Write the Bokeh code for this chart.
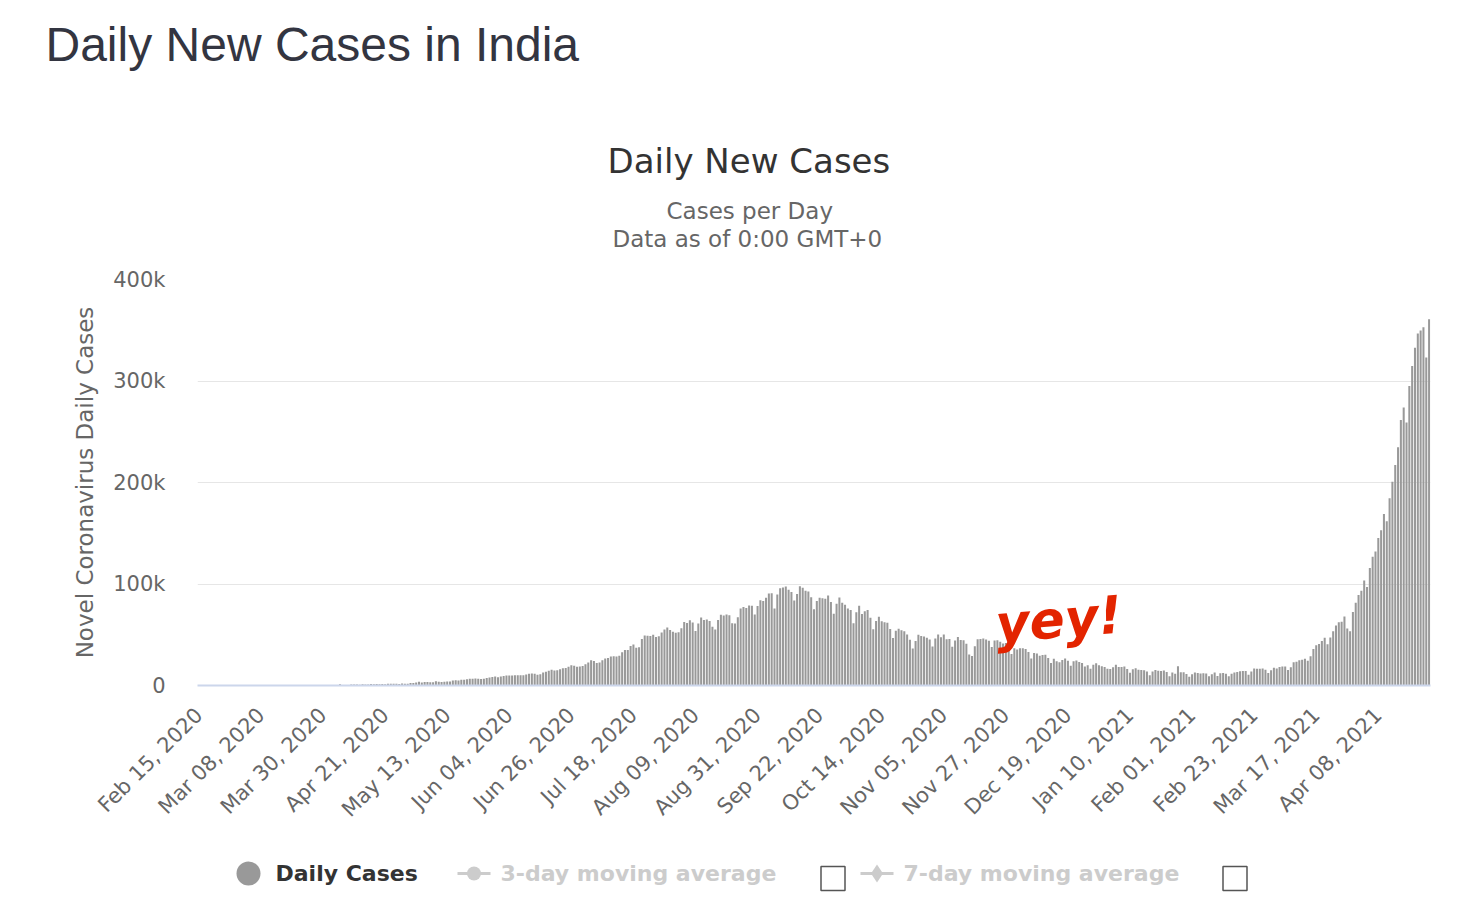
import math
import pandas as pd
from bokeh.plotting import figure
from bokeh.models import Range1d, FixedTicker, ColumnDataSource, Title
from bokeh.layouts import column
from bokeh.embed import file_html
from bokeh.resources import INLINE
from bokeh.core.properties import value

# ---------------- data ----------------
start_date = "2020-02-15"

cases_feb_2020 = [0, 0, 0, 0, 0, 0, 0, 0, 0, 0, 0, 0, 0, 0]
cases_mar_2020 = [0, 2, 1, 22, 2, 1, 3, 5, 4, 12, 12, 11, 9, 20, 11, 6, 23, 14, 38, 50,
                  86, 66, 103, 37, 121, 70, 160, 100, 82, 227, 146]
cases_apr_2020 = [601, 545, 478, 515, 506, 1190, 500, 522, 540, 1035, 906, 909, 796, 1211,
                  1076, 941, 1363, 1334, 1553, 1336, 1540, 1290, 1667, 1752, 1835, 1607,
                  1561, 1873, 1738, 1801]
cases_may_2020 = [2396, 2564, 2952, 3656, 2971, 3561, 3390, 3320, 3277, 4213, 3604, 3524,
                  3722, 3967, 3970, 4987, 5242, 4970, 5611, 5609, 6088, 6654, 6767, 6977,
                  6535, 6387, 6566, 7466, 7964, 8380, 8782]
cases_jun_2020 = [8171, 8909, 9304, 9851, 9887, 9971, 9983, 9987, 9985, 9996, 10956, 11458,
                  11929, 11502, 10667, 10974, 12881, 13586, 14516, 15413, 14821, 14933,
                  15968, 16922, 17296, 18552, 19906, 19459, 18522, 18653]
cases_jul_2020 = [19148, 20903, 22771, 24850, 24248, 22252, 22752, 24879, 26506, 27114,
                  28637, 28701, 28498, 29429, 32695, 34956, 34884, 38902, 40425, 37148,
                  37724, 45720, 49310, 48916, 48661, 49931, 47703, 48513, 52123, 55079, 57118]
cases_aug_2020 = [54735, 52972, 52050, 52509, 56282, 62538, 61537, 64399, 62064, 53601,
                  60963, 66999, 64553, 65002, 63490, 57981, 55079, 64531, 69652, 68898,
                  69878, 69239, 61408, 60975, 67151, 75760, 77266, 76472, 78761, 78512, 69921]
cases_sep_2020 = [78357, 83883, 83341, 86432, 90632, 90802, 75809, 89706, 95735, 96551,
                  97570, 94372, 92071, 83809, 90123, 97894, 96424, 93337, 92605, 86961,
                  75083, 83347, 86508, 86052, 85362, 88600, 82170, 70589, 80472, 86821]
cases_oct_2020 = [81484, 79476, 75829, 74442, 61267, 72049, 78524, 70496, 73272, 74383,
                  66732, 55342, 63509, 67708, 63371, 62212, 61871, 55722, 46790, 54044,
                  55839, 54366, 53370, 50129, 45148, 36470, 43893, 49881, 48648, 48268, 46963]
cases_nov_2020 = [45231, 38310, 46253, 50210, 47638, 50357, 45674, 45903, 38073, 44281,
                  47905, 44878, 44684, 41100, 30548, 29163, 38617, 45576, 45882, 46232,
                  45209, 44059, 37975, 44376, 44489, 43082, 41322, 41810, 38772, 31118]
cases_dec_2020 = [36604, 35551, 36594, 36652, 36011, 32981, 26567, 32080, 31521, 29398,
                  30006, 30254, 27071, 22065, 26382, 24010, 22890, 25152, 26624, 24337,
                  19556, 23950, 24712, 23068, 22273, 18732, 20021, 16432, 20549, 21822, 20035]
cases_jan_2021 = [19078, 18177, 16504, 16375, 18088, 20346, 18139, 18222, 18645, 16311,
                  12584, 15968, 16946, 15590, 15158, 15144, 13788, 10064, 13823, 15223,
                  14545, 14256, 14849, 13203, 9102, 12689, 11666, 18855, 13083, 13052, 11427]
cases_feb_2021 = [8635, 11039, 12899, 12408, 11713, 12059, 11831, 9110, 11067, 12923,
                  9309, 12143, 12194, 11649, 9121, 11610, 12881, 13193, 13993, 14264,
                  14199, 10584, 13742, 16738, 16577, 16488, 16752, 15510]
cases_mar_2021 = [12286, 14989, 17407, 16838, 18327, 18711, 18599, 15388, 17921, 22854,
                  23285, 24882, 25320, 26291, 24492, 28903, 35871, 39726, 40953, 43846,
                  46951, 40715, 47262, 53476, 59118, 62258, 62714, 68020, 56211, 53480, 72330]
cases_apr_2021 = [81466, 89129, 93249, 103558, 96982, 115736, 126789, 131968, 145384,
                  152879, 168912, 161736, 184372, 200739, 217353, 234692, 261500, 273810,
                  259170, 295041, 314835, 332730, 346786, 349691, 352991, 323144, 360960]

daily_cases = (cases_feb_2020 + cases_mar_2020 + cases_apr_2020 + cases_may_2020 +
               cases_jun_2020 + cases_jul_2020 + cases_aug_2020 + cases_sep_2020 +
               cases_oct_2020 + cases_nov_2020 + cases_dec_2020 + cases_jan_2021 +
               cases_feb_2021 + cases_mar_2021 + cases_apr_2021)

x_tick_labels = ["Feb 15, 2020", "Mar 08, 2020", "Mar 30, 2020", "Apr 21, 2020",
                 "May 13, 2020", "Jun 04, 2020", "Jun 26, 2020", "Jul 18, 2020",
                 "Aug 09, 2020", "Aug 31, 2020", "Sep 22, 2020", "Oct 14, 2020",
                 "Nov 05, 2020", "Nov 27, 2020", "Dec 19, 2020", "Jan 10, 2021",
                 "Feb 01, 2021", "Feb 23, 2021", "Mar 17, 2021", "Apr 08, 2021"]
y_tick_values = [0, 100000, 200000, 300000, 400000]
y_tick_labels = ["0", "100k", "200k", "300k", "400k"]

page_title = "Daily New Cases in India"
chart_title = "Daily New Cases"
chart_subtitles = ["Cases per Day", "Data as of 0:00 GMT+0"]
legend_labels = ["Daily Cases", "3-day moving average", "7-day moving average"]
note_text = "yey!"

# ---------------- build ----------------
n = len(daily_cases)
dates = pd.date_range(start_date, periods=n, freq="D")
date_strs = [d.strftime("%b %d, %Y") for d in dates]
tick_idx = [date_strs.index(lab) for lab in x_tick_labels if lab in date_strs]

FONT = "DejaVu Sans"
BAR = "#999999"
Y_MAX = 400000

W = 1460
FL, FR, FT, FB = 197, 1430, 279, 685   # plot frame in page pixels
MAIN_H = 845
LEG_H = 75


def px_x(px):
    return -0.5 + (px - FL) * n / (FR - FL)


def px_y(py):
    return (FB - py) * Y_MAX / (FB - FT)


src = ColumnDataSource(dict(x=list(range(n)), cases=daily_cases, date=date_strs))

p = figure(width=W, height=MAIN_H, output_backend="svg", toolbar_location=None,
           x_range=Range1d(-0.5, n - 0.5), y_range=Range1d(0, Y_MAX),
           min_border_left=FL, min_border_right=W - FR, min_border_top=FT,
           min_border_bottom=MAIN_H - FB)
p.outline_line_color = None
p.background_fill_color = "white"
p.border_fill_color = "white"

p.vbar(x="x", top="cases", width=0.72, source=src, fill_color=BAR, line_color=None)

# x axis
p.xaxis.ticker = FixedTicker(ticks=tick_idx)
p.xaxis.major_label_overrides = {i: date_strs[i] for i in tick_idx}
p.xaxis.major_label_orientation = math.pi / 4
p.xaxis.major_label_text_font = FONT
p.xaxis.major_label_text_font_size = "21px"
p.xaxis.major_label_text_color = "#666666"
p.xaxis.major_tick_out = 0
p.xaxis.major_tick_in = 0
p.xaxis.major_label_standoff = 26
p.xaxis.axis_line_color = "#ccd6eb"
p.xaxis.axis_line_width = 2
p.xaxis.major_tick_line_color = None
p.xaxis.minor_tick_line_color = None
p.xgrid.grid_line_color = None

# y axis
yt = FixedTicker(ticks=y_tick_values)
p.yaxis.ticker = yt
p.ygrid.ticker = yt
p.yaxis.major_label_overrides = dict(zip(y_tick_values, y_tick_labels))
p.yaxis.major_label_text_font = FONT
p.yaxis.major_label_text_font_size = "21px"
p.yaxis.major_label_text_color = "#666666"
p.yaxis.major_tick_out = 0
p.yaxis.major_tick_in = 0
p.yaxis.major_label_standoff = 32
p.yaxis.axis_line_color = None
p.yaxis.major_tick_line_color = None
p.yaxis.minor_tick_line_color = None
p.yaxis.axis_label = "Novel Coronavirus Daily Cases"
p.yaxis.axis_label_text_font = FONT
p.yaxis.axis_label_text_font_size = "23px"
p.yaxis.axis_label_text_font_style = "normal"
p.yaxis.axis_label_text_color = "#666666"
p.yaxis.axis_label_standoff = 12
p.ygrid.grid_line_color = "#e6e6e6"
p.ygrid.grid_line_width = 1

# handwritten-looking note
p.text(x=[px_x(995)], y=[px_y(624)], text=[note_text], text_font=value(FONT),
       text_font_style="bold italic", text_font_size="52px", text_color="#e32400",
       angle=0.08, text_baseline="alphabetic")


# titles stacked above the frame (first added = nearest to the frame)
def spacer(h):
    p.add_layout(Title(text=" ", text_font_size="1px", standoff=max(h - 3.2, 0)), "above")


def title(txt, left_px, size, color, font=FONT):
    p.add_layout(Title(text=txt, align="left", offset=left_px - FL, standoff=0,
                       text_font=font, text_font_size=size, text_font_style="normal",
                       text_color=color), "above")


spacer(27.6)
title(chart_subtitles[1], 612, "23px", "#666666")
title(chart_subtitles[0], 666, "23px", "#666666")
spacer(14.8)
title(chart_title, 607, "34px", "#333333")
spacer(68.2)
title(page_title, 45, "48px", "#333541", font="Liberation Sans")

# ---- legend strip (page-pixel coordinates) ----
top_px = MAIN_H
lg = figure(width=W, height=LEG_H, x_range=Range1d(FL, FR),
            y_range=Range1d(top_px + LEG_H, top_px),
            output_backend="svg", toolbar_location=None,
            min_border_left=FL, min_border_right=W - FR, min_border_top=0,
            min_border_bottom=0, x_axis_type=None, y_axis_type=None)
lg.grid.visible = False
lg.outline_line_color = None
LY = 873
lg.scatter(x=[248], y=[LY], size=24, marker="circle", fill_color=BAR, line_color=None)
# 3-day
lg.segment(x0=[457], y0=[LY], x1=[490], y1=[LY], line_color="#cccccc", line_width=3)
lg.scatter(x=[473.5], y=[LY], size=14, marker="circle", fill_color="#cccccc", line_color=None)
lg.rect(x=[832.5], y=[878], width=24, height=24, fill_color=None,
        line_color="#555555", line_width=1.5)
# 7-day
lg.segment(x0=[860], y0=[LY], x1=[893], y1=[LY], line_color="#cccccc", line_width=3)
lg.scatter(x=[876.5], y=[LY], size=18, marker="diamond", fill_color="#cccccc", line_color=None)
lg.rect(x=[1234.5], y=[878], width=24, height=24, fill_color=None,
        line_color="#555555", line_width=1.5)
lg.text(x=[275, 500, 903], y=[LY, LY, LY], text=legend_labels, text_font=value(FONT),
        text_font_style="bold", text_font_size="22px",
        text_color=["#333333", "#cccccc", "#cccccc"], text_baseline="middle")

layout = column(p, lg, spacing=0)
open("out.html", "w").write(file_html(layout, INLINE))
